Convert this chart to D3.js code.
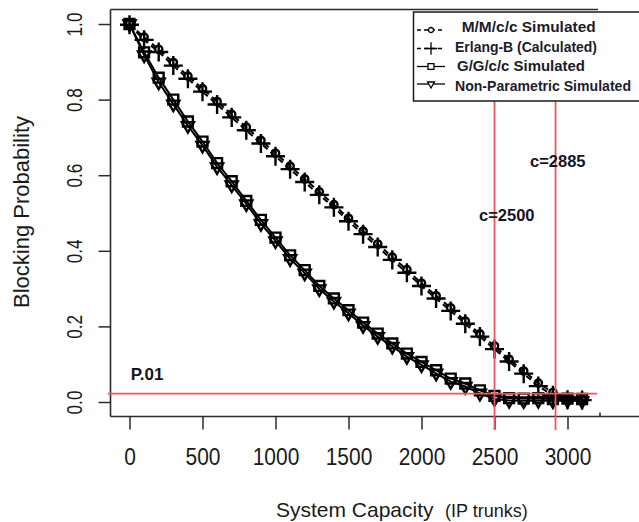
<!DOCTYPE html>
<html>
<head>
<meta charset="utf-8">
<script src="https://cdn.jsdelivr.net/npm/d3@7"></script>
<style>
  body { margin: 0; background: #fff; }
  svg { display: block; font-family: "Liberation Sans", Arial, sans-serif; }
</style>
</head>
<body>
<svg id="chart" width="639" height="522"></svg>
<script>
// capacity (IP trunks) and blocking probability
const capacity = [0, 100, 200, 300, 400, 500, 600, 700, 800, 900, 1000, 1100, 1200, 1300, 1400, 1500,
  1600, 1700, 1800, 1900, 2000, 2100, 2200, 2300, 2400, 2500, 2600, 2700, 2800, 2900, 3000, 3100];

const mmccSim = [1.000, 0.965, 0.933, 0.898, 0.862, 0.829, 0.795, 0.761, 0.727, 0.692, 0.658, 0.624,
  0.590, 0.556, 0.522, 0.486, 0.452, 0.418, 0.383, 0.350, 0.314, 0.281, 0.249, 0.214, 0.180, 0.148,
  0.113, 0.082, 0.050, 0.025, 0.010, 0.008];
const erlangB = [0.998, 0.958, 0.926, 0.890, 0.855, 0.821, 0.787, 0.753, 0.719, 0.684, 0.650, 0.616,
  0.582, 0.548, 0.515, 0.478, 0.444, 0.410, 0.376, 0.342, 0.307, 0.274, 0.241, 0.207, 0.173, 0.140,
  0.107, 0.075, 0.042, 0.018, 0.006, 0.005];
const ggccSim = [1.000, 0.925, 0.858, 0.800, 0.742, 0.689, 0.632, 0.584, 0.532, 0.482, 0.435, 0.388,
  0.349, 0.307, 0.274, 0.243, 0.210, 0.181, 0.155, 0.128, 0.106, 0.084, 0.062, 0.049, 0.031, 0.016,
  0.010, 0.009, 0.010, 0.008, 0.009, 0.008];
const nonParamSim = [1.000, 0.918, 0.846, 0.788, 0.731, 0.679, 0.622, 0.574, 0.524, 0.472, 0.426, 0.379,
  0.341, 0.299, 0.266, 0.235, 0.202, 0.173, 0.147, 0.120, 0.098, 0.076, 0.054, 0.041, 0.023, 0.008,
  0.004, 0.003, 0.004, 0.003, 0.004, 0.003];

const seriesNames = ["M/M/c/c Simulated", "Erlang-B (Calculated)", "G/G/c/c Simulated", "Non-Parametric Simulated"];

const xTicks = [0, 500, 1000, 1500, 2000, 2500, 3000];
const yTicks = [0.0, 0.2, 0.4, 0.6, 0.8, 1.0];

// reference lines drawn over the plot
const pLevel = 0.022;
const capLines = [
  { label: "c=2500", at: 2500 },
  { label: "c=2885", at: 2918 }
];

const ink = "#1a1a1a";
const red = "#ee5560";

const svg = d3.select("#chart");
svg.append("rect").attr("width", 639).attr("height", 522).attr("fill", "#fff");

const x = d3.scaleLinear().domain([0, 3000]).range([129.5, 567.5]);
const y = d3.scaleLinear().domain([0, 1]).range([402, 24]);

const box = { left: 110.5, right: 600, top: 9.5, bottom: 416.5 };

// ---- axes
const yAxis = svg.append("g")
  .attr("transform", `translate(${box.left},0)`)
  .call(d3.axisLeft(y).tickValues(yTicks).tickSize(12).tickFormat(d3.format(".1f")));
yAxis.attr("font-size", null).attr("font-family", null);
yAxis.select(".domain").remove();
yAxis.selectAll("line").attr("stroke", "#2b2b2b").attr("stroke-width", 1.5);
yAxis.selectAll("text")
  .attr("x", null).attr("dy", null)
  .attr("text-anchor", "middle")
  .attr("font-size", 22)
  .attr("fill", ink)
  .attr("transform", "translate(-29,0) rotate(-90) scale(0.78,1)");

const xAxis = svg.append("g")
  .attr("transform", `translate(0,${box.bottom})`)
  .call(d3.axisBottom(x).tickValues(xTicks).tickSize(13).tickPadding(19).tickFormat(d3.format("d")));
xAxis.attr("font-size", null).attr("font-family", null);
xAxis.select(".domain").remove();
xAxis.selectAll("line").attr("stroke", "#2b2b2b").attr("stroke-width", 1.5);
xAxis.selectAll("text")
  .attr("font-size", 23)
  .attr("fill", ink)
  .attr("transform", "scale(0.91,1)");

// frame (right side is cut away in the original)
const frame = svg.append("g").attr("stroke", "#2b2b2b").attr("stroke-width", 1.6);
frame.append("line").attr("x1", box.left).attr("x2", box.left).attr("y1", box.top).attr("y2", box.bottom);
frame.append("line").attr("x1", box.left).attr("x2", 598).attr("y1", box.top).attr("y2", box.top);
frame.append("line").attr("x1", box.left).attr("x2", 639).attr("y1", box.bottom).attr("y2", box.bottom);
frame.append("line").attr("x1", box.right).attr("x2", box.right).attr("y1", box.bottom - 4).attr("y2", box.bottom);

// axis titles
svg.append("text")
  .attr("transform", "translate(29,212) rotate(-90)")
  .attr("text-anchor", "middle")
  .attr("font-size", 22)
  .attr("fill", ink)
  .text("Blocking Probability");
svg.append("text")
  .attr("x", 276).attr("y", 516.5)
  .attr("font-size", 21)
  .attr("fill", ink)
  .text("System Capacity");
svg.append("text")
  .attr("x", 445).attr("y", 517)
  .attr("font-size", 18)
  .attr("fill", ink)
  .text("(IP trunks)");

// ---- series
const plus = d3.symbolPlus || d3.symbolCross;
const square = d3.symbolSquare2 || d3.symbolSquare;
const tri = d3.symbolTriangle2 || d3.symbolTriangle;

const series = [
  { name: seriesNames[0], values: mmccSim, symbol: d3.symbolCircle, size: 42, dash: "6,4", rot: 0 },
  { name: seriesNames[1], values: erlangB, symbol: plus, size: 120, dash: "6,4", rot: 0 },
  { name: seriesNames[2], values: ggccSim, symbol: square, size: 125, dash: null, rot: 0 },
  { name: seriesNames[3], values: nonParamSim, symbol: tri, size: 105, dash: null, rot: 180 }
];

const line = d3.line().x(d => x(d[0])).y(d => y(d[1]));

series.forEach(s => {
  const pts = capacity.map((c, i) => [c, s.values[i]]);
  const g = svg.append("g").attr("class", "series");
  g.append("path")
    .datum(pts)
    .attr("d", line)
    .attr("fill", "none")
    .attr("stroke", "#000")
    .attr("stroke-width", 2)
    .attr("stroke-dasharray", s.dash);
  g.selectAll(".pt")
    .data(pts)
    .enter()
    .append("path")
    .attr("class", "pt")
    .attr("transform", d => `translate(${x(d[0])},${y(d[1])}) rotate(${s.rot})`)
    .attr("d", d3.symbol().type(s.symbol).size(s.size))
    .attr("fill", "none")
    .attr("stroke", "#000")
    .attr("stroke-width", 2.4);
});

// ---- red reference lines and notes
const refs = svg.append("g").attr("stroke", red).attr("stroke-width", 1.8);
refs.append("line")
  .attr("x1", 108).attr("x2", 597)
  .attr("y1", y(pLevel)).attr("y2", y(pLevel));
refs.selectAll(".cap")
  .data(capLines)
  .enter()
  .append("line")
  .attr("class", "cap")
  .attr("x1", d => x(d.at)).attr("x2", d => x(d.at))
  .attr("y1", 101).attr("y2", 430);

const note = svg.append("g").attr("font-weight", "bold").attr("fill", "#151525");
note.append("text").attr("x", 130.7).attr("y", 380).attr("font-size", 17).text("P.01");
note.append("text").attr("x", 479).attr("y", 220.5).attr("font-size", 16.5).text(capLines[0].label);
note.append("text").attr("x", 530).attr("y", 166.5).attr("font-size", 16.5).text(capLines[1].label);

// ---- legend
const legend = svg.append("g");
legend.append("rect")
  .attr("x", 413.5).attr("y", 12)
  .attr("width", 240).attr("height", 89)
  .attr("fill", "#fff")
  .attr("stroke", ink)
  .attr("stroke-width", 1.5);

const legSymY = [30, 48.5, 66.5, 84];
const legTextY = [31.5, 51.5, 71, 90.5];
const legTextX = [461.7, 455, 457, 455];
const legTextW = [134, 142, 128, 176];
const legSize = [20, 55, 45, 34];

series.forEach((s, i) => {
  const row = legend.append("g");
  row.append("line")
    .attr("x1", 417).attr("x2", 445)
    .attr("y1", legSymY[i]).attr("y2", legSymY[i])
    .attr("stroke", "#000")
    .attr("stroke-width", 1.3)
    .attr("stroke-dasharray", s.dash ? "4,3" : null);
  row.append("path")
    .attr("transform", `translate(431,${legSymY[i]}) rotate(${s.rot})`)
    .attr("d", d3.symbol().type(s.symbol).size(legSize[i]))
    .attr("fill", "#fff")
    .attr("stroke", "#000")
    .attr("stroke-width", 1.3);
  row.append("text")
    .attr("x", legTextX[i]).attr("y", legTextY[i])
    .attr("font-size", 15)
    .attr("font-weight", "bold")
    .attr("fill", "#1c1c2c")
    .attr("textLength", legTextW[i])
    .attr("lengthAdjust", "spacingAndGlyphs")
    .text(s.name);
});
</script>
</body>
</html>
